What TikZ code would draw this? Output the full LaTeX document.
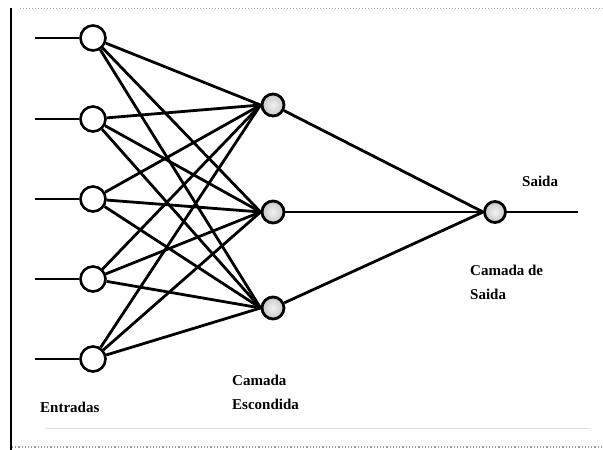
\documentclass[tikz,border=0pt]{standalone}
\usepackage{fontspec}
\setmainfont{Liberation Serif}
\begin{document}
\begin{tikzpicture}[x=1pt,y=-1pt,
  link/.style={line width=2.8pt,black},
  inneuron/.style={circle,draw=black,line width=2.6pt,fill=white,minimum size=25pt,inner sep=0pt},
  hidneuron/.style={circle,draw=black,line width=2.8pt,inner color=gray!10,outer color=gray!45,minimum size=22pt,inner sep=0pt},
  outneuron/.style={circle,draw=black,line width=2.8pt,inner color=gray!10,outer color=gray!45,minimum size=21pt,inner sep=0pt},
  lbl/.style={font=\bfseries\fontsize{15}{24}\selectfont,inner sep=0pt,align=left}]
\useasboundingbox (0,0) rectangle (603,450);
\fill[white] (0,0) rectangle (603,450);
% frame pieces
\draw[line width=2pt] (11,8) -- (11,450);
\draw[line width=1pt,dotted,gray!70] (20,8) -- (603,8);
\draw[line width=1.2pt,dotted,gray!80] (12,447) -- (603,447);
\draw[line width=0.6pt,gray!25] (45,428) -- (590,428);
% input layer
\foreach \i/\y in {1/38,2/119,3/199,4/279,5/359}{
  \node[inneuron] (in\i) at (93,\y) {};
  \coordinate (src\i) at (35,\y);
}
% hidden layer
\node[hidneuron] (h1) at (273,105) {};
\node[hidneuron] (h2) at (273,212) {};
\node[hidneuron] (h3) at (273,308) {};
% output
\node[outneuron] (out) at (495,212) {};
\coordinate (sink) at (578,212);
% connections
\foreach \i in {1,...,5}{
  \draw[link] (src\i) -- (in\i);
  \foreach \j in {1,2,3}{
    \draw[link] (in\i) -- (h\j.west);
  }
}
\foreach \j in {1,2,3}{
  \draw[link] (h\j) -- (out.west);
}
\draw[link] (out) -- (sink);
% labels
\node[lbl,anchor=west] (lsai) at (522,181) {Saida};
\node[lbl,anchor=base west] (lcs) at (470,299) {Camada de\\Saida};
\node[lbl,anchor=base west] (lce) at (232,409) {Camada\\Escondida};
\node[lbl,anchor=west] (lent) at (40,407) {Entradas};
\end{tikzpicture}
\end{document}
